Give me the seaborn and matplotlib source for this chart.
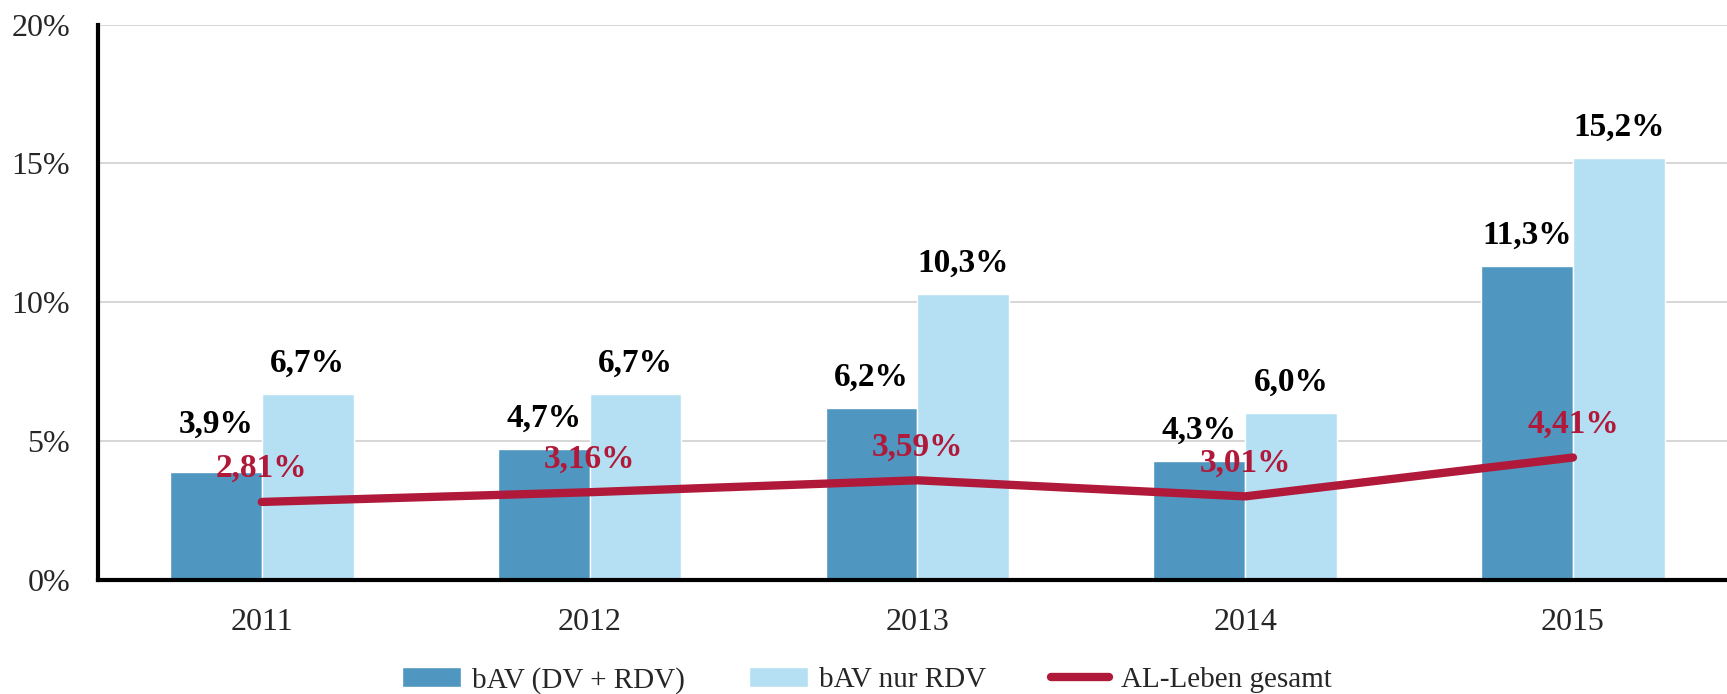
import matplotlib
matplotlib.use("Agg")
import matplotlib.pyplot as plt
from matplotlib.patches import Patch
from matplotlib.lines import Line2D
import numpy as np
import pandas as pd
import seaborn as sns

years = ["2011", "2012", "2013", "2014", "2015"]
bav_dv_rdv = [3.9, 4.7, 6.2, 4.3, 11.3]
bav_nur_rdv = [6.7, 6.7, 10.3, 6.0, 15.2]
al_leben = [2.81, 3.16, 3.59, 3.01, 4.41]
series_names = ["bAV (DV + RDV)", "bAV nur RDV", "AL-Leben gesamt"]

c_dark = "#4F97C0"
c_light = "#B5E0F3"
c_red = "#B0193A"

sns.set_style("white")
plt.rcParams["font.family"] = ["Liberation Serif", "DejaVu Serif"]

df = pd.DataFrame({
    "year": years * 2,
    "value": bav_dv_rdv + bav_nur_rdv,
    "series": [series_names[0]] * 5 + [series_names[1]] * 5,
})

fig = plt.figure(figsize=(17.27, 6.94), dpi=100)
ax = fig.add_axes([0.0567, 0.1643, 0.9433, 0.8003])

sns.barplot(data=df, x="year", y="value", hue="series",
            palette=[c_dark, c_light], saturation=1, width=0.56,
            edgecolor="white", linewidth=1, legend=False, ax=ax)

for cont, vals in zip(ax.containers, [bav_dv_rdv, bav_nur_rdv]):
    texts = ax.bar_label(cont, labels=[f"{v:.1f}%".replace(".", ",") for v in vals],
                         padding=11, fontsize=24, fontweight="bold", color="black")
    if vals is bav_dv_rdv:
        # first label sits a bit higher in the original to clear the line label
        texts[0].xyann = (texts[0].xyann[0], texts[0].xyann[1] + 12)

sns.lineplot(x=np.arange(len(years)), y=al_leben, color=c_red, linewidth=6,
             solid_capstyle="round", ax=ax)
for i, v in enumerate(al_leben):
    ax.annotate(f"{v:.2f}%".replace(".", ","), (i, v), xytext=(0, 24),
                textcoords="offset points", ha="center", va="center",
                fontsize=24, fontweight="bold", color=c_red)

ax.set_ylim(0, 20)
ax.set_xlim(-0.5, 4.47)
ax.set_yticks([0, 5, 10, 15, 20])
ax.set_yticklabels([f"{t}%" for t in [0, 5, 10, 15, 20]])
ax.set_xlabel("")
ax.set_ylabel("")
ax.yaxis.grid(True, color="#D0D0D0", linewidth=1.2)
ax.set_axisbelow(True)
ax.tick_params(axis="y", length=0, pad=20, labelsize=23)
ax.tick_params(axis="x", length=0, pad=20, labelsize=23)
for s in ["top", "right"]:
    ax.spines[s].set_visible(False)
ax.spines["left"].set_linewidth(3)
ax.spines["left"].set_color("black")
ax.spines["bottom"].set_linewidth(3)
ax.spines["bottom"].set_color("black")

handles = [Patch(facecolor=c_dark), Patch(facecolor=c_light),
           Line2D([0], [0], color=c_red, linewidth=6, solid_capstyle="round")]
fig.legend(handles, series_names, loc="center", bbox_to_anchor=(0.502, 0.02),
           ncol=3, frameon=False, fontsize=21, handlelength=2.0,
           handleheight=0.7, columnspacing=2.2, handletextpad=0.4)

fig.savefig("out.png", dpi=100)
